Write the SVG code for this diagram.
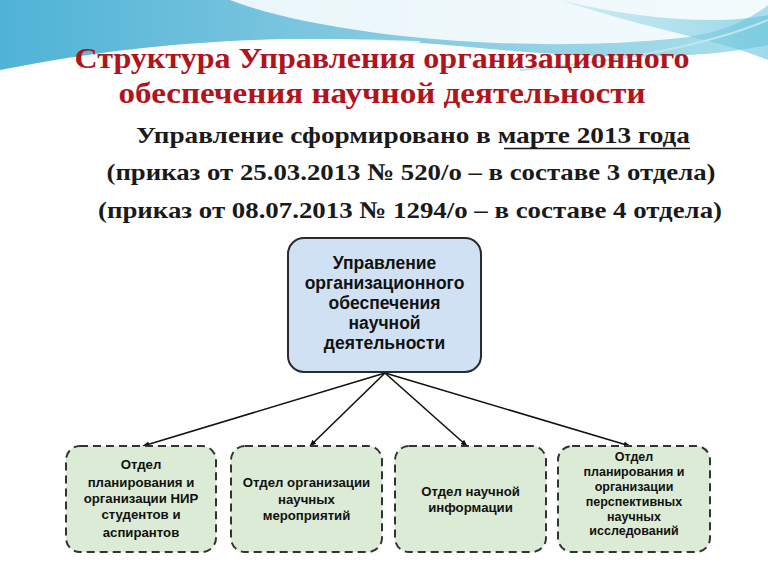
<svg xmlns="http://www.w3.org/2000/svg" width="768" height="576" viewBox="0 0 768 576">
<defs>
<linearGradient id="sky" x1="0" y1="0" x2="1" y2="0">
<stop offset="0" stop-color="#4fb3d6"/>
<stop offset="0.4" stop-color="#7cc6df"/>
<stop offset="1" stop-color="#a9deea"/>
</linearGradient>
<linearGradient id="sky2" x1="0" y1="0" x2="1" y2="0">
<stop offset="0" stop-color="#b9e6f0"/>
<stop offset="1" stop-color="#5fc0da"/>
</linearGradient>
<marker id="ah" viewBox="0 0 10 10" refX="9" refY="5" markerWidth="7" markerHeight="7" orient="auto" markerUnits="userSpaceOnUse">
<path d="M0,1 L10,5 L0,9 Z" fill="#111"/>
</marker>
<style>
.title{font-family:"Liberation Serif",serif;font-weight:bold;font-size:30px;fill:#b0141c;text-anchor:middle}
.sub{font-family:"Liberation Serif",serif;font-weight:bold;font-size:24px;fill:#1a1a1a;text-anchor:middle}
.top{fill:#cfe1f2;stroke:#2a2a2a;stroke-width:2}
.dept{fill:#dcebd6;stroke:#333;stroke-width:2;stroke-dasharray:8,5}
.t{font-family:"Liberation Sans",Arial,sans-serif;font-weight:bold;fill:#111;text-anchor:middle}
.t1{font-size:17.5px}
.t2{font-size:13.2px}
.t3{font-size:12.5px}
.conn{stroke:#111;stroke-width:1.6;fill:none;marker-end:url(#ah)}
</style>
</defs>
<rect width="768" height="576" fill="#ffffff"/>
<g id="background">
<path d="M0,0 H768 V45 C700,60 600,60 480,48 C360,36 200,30 0,70 Z" fill="url(#sky)"/>
<path d="M230,0 C320,35 520,55 680,38 C730,32 755,15 768,5 V0 Z" fill="#ffffff" opacity="0.85"/>
<path d="M560,0 C640,20 720,25 768,15 V60 C720,40 650,30 560,0 Z" fill="url(#sky2)" opacity="0.6"/>
<path d="M0,80 C120,45 250,35 420,42" stroke="#ffffff" stroke-width="2" fill="none" opacity="0.8"/>
<path d="M520,70 C640,60 720,40 768,20" stroke="#bfe5ef" stroke-width="2" fill="none"/>
</g>
<g id="title">
<text class="title" x="382" y="68" textLength="615" lengthAdjust="spacingAndGlyphs">Структура Управления организационного</text>
<text class="title" x="382" y="103" textLength="527" lengthAdjust="spacingAndGlyphs">обеспечения научной деятельности</text>
</g>
<g id="subtitle">
<text class="sub" x="413" y="143" textLength="554" lengthAdjust="spacingAndGlyphs">Управление сформировано в марте 2013 года</text>
<line x1="504" y1="148.5" x2="690" y2="148.5" stroke="#1a1a1a" stroke-width="1.5"/>
<text class="sub" x="411" y="180" textLength="609" lengthAdjust="spacingAndGlyphs">(приказ от 25.03.2013 № 520/о – в составе 3 отдела)</text>
<text class="sub" x="410" y="218" textLength="624" lengthAdjust="spacingAndGlyphs">(приказ от 08.07.2013 № 1294/о – в составе 4 отдела)</text>
</g>
<g id="connectors">
<line class="conn" x1="385" y1="373" x2="143" y2="446"/>
<line class="conn" x1="385" y1="373" x2="310" y2="446"/>
<line class="conn" x1="385" y1="373" x2="467" y2="446"/>
<line class="conn" x1="385" y1="373" x2="630" y2="446"/>
</g>
<g id="node-main">
<rect class="top" x="288" y="238" width="193" height="134" rx="16"/>
<text class="t t1" x="384.5" y="269">Управление</text>
<text class="t t1" x="384.5" y="289">организационного</text>
<text class="t t1" x="384.5" y="309">обеспечения</text>
<text class="t t1" x="384.5" y="329">научной</text>
<text class="t t1" x="384.5" y="349">деятельности</text>
</g>
<g id="node-dept1">
<rect class="dept" x="66" y="446" width="150" height="106" rx="14"/>
<text class="t t2" x="141" y="469">Отдел</text>
<text class="t t2" x="141" y="487">планирования и</text>
<text class="t t2" x="141" y="503">организации НИР</text>
<text class="t t2" x="141" y="519">студентов и</text>
<text class="t t2" x="141" y="537">аспирантов</text>
</g>
<g id="node-dept2">
<rect class="dept" x="231" y="446" width="151" height="106" rx="14"/>
<text class="t t2" x="306.5" y="487">Отдел организации</text>
<text class="t t2" x="306.5" y="504">научных</text>
<text class="t t2" x="306.5" y="520">мероприятий</text>
</g>
<g id="node-dept3">
<rect class="dept" x="395" y="446" width="151" height="106" rx="14"/>
<text class="t t2" x="470.5" y="496">Отдел научной</text>
<text class="t t2" x="470.5" y="512">информации</text>
</g>
<g id="node-dept4">
<rect class="dept" x="558" y="446" width="152" height="106" rx="14"/>
<text class="t t3" x="634" y="461">Отдел</text>
<text class="t t3" x="634" y="476">планирования и</text>
<text class="t t3" x="634" y="491">организации</text>
<text class="t t3" x="634" y="506">перспективных</text>
<text class="t t3" x="634" y="521">научных</text>
<text class="t t3" x="634" y="535">исследований</text>
</g>
</svg>
